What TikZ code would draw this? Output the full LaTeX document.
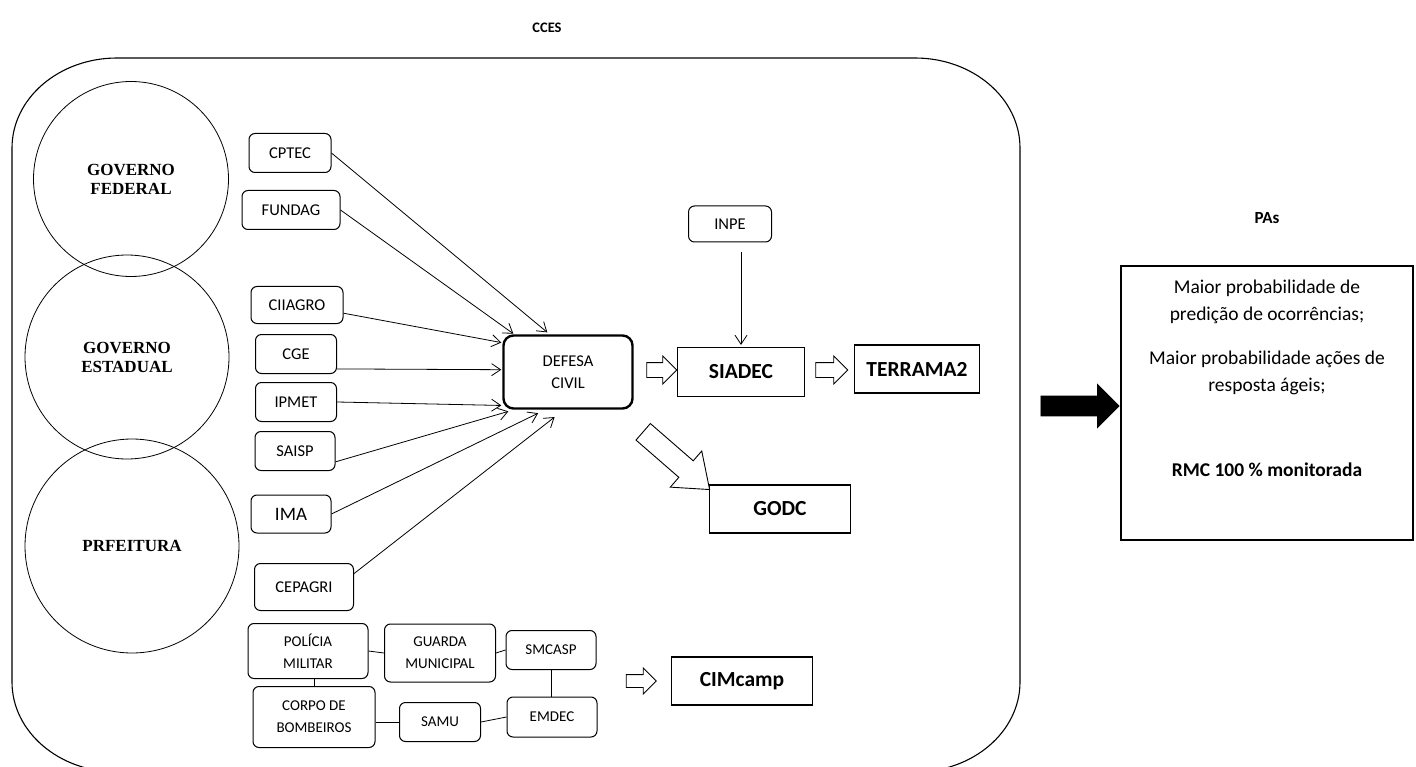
\documentclass[tikz,border=0pt]{standalone}
\usepackage{fontspec}
\setmainfont{Carlito}
\newfontfamily\govfont{Liberation Serif}
\usepackage{tikz}
\usetikzlibrary{positioning, shapes, shapes.arrows, arrows.meta, calc}

\newcommand{\orgsize}{\fontsize{16.5}{22}\selectfont}
\newcommand{\crewsize}{\fontsize{15}{22}\selectfont}
\newcommand{\syssize}{\fontsize{21.5}{24}\selectfont}
\newcommand{\govsize}{\fontsize{17}{19}\selectfont}
\newcommand{\pasize}{\fontsize{19.5}{27}\selectfont}

\begin{document}
\begin{tikzpicture}[x=1pt, y=-1pt]

	\tikzstyle{govc}=[circle, draw=black, line width=0.8pt, inner sep=0pt, align=center, font=\govfont\govsize\bfseries]
	\tikzstyle{orgr}=[rectangle, rounded corners=6pt, draw=black, line width=1pt, inner sep=0pt, align=center, font=\orgsize]
	\tikzstyle{sysr}=[rectangle, draw=black, line width=1.1pt, inner sep=0pt, font=\syssize\bfseries]
	\tikzstyle{feed}=[-{Straight Barb[length=9pt, width=12pt]}, line width=0.8pt]
	\tikzstyle{hollow}=[single arrow, draw=black, line width=0.9pt, fill=white, inner xsep=0pt, text height=0pt, text depth=0pt]

	\useasboundingbox (0,0) rectangle (1416,767);
	\clip (0,0) rectangle (1416,767);

	% outer frame
	\draw [line width=1.1pt] (12,148) -- (12,682)
		arc [start angle=180, end angle=90, x radius=105, y radius=90] -- (915,772)
		arc [start angle=90, end angle=0, x radius=105, y radius=90] -- (1020,148)
		arc [start angle=0, end angle=-90, x radius=105, y radius=90] -- (117,58)
		arc [start angle=270, end angle=180, x radius=105, y radius=90] -- cycle;
	\node (ccesnode) at (547,28) [font=\fontsize{14.5}{16}\selectfont\bfseries] {CCES};

	\node (fednode) at (131,179) [govc, minimum size=195pt] {GOVERNO\\FEDERAL};
	\node (estnode) at (127,357) [govc, minimum size=204pt] {GOVERNO\\ESTADUAL};
	\node (prefnode) at (132,546) [govc, minimum size=214pt] {PRFEITURA};

	\node (cptecnode) at (290,153) [orgr, minimum width=82pt, minimum height=39pt] {CPTEC};
	\node (fundagnode) at (291,210) [orgr, minimum width=98pt, minimum height=39pt] {FUNDAG};
	\node (ciiagronode) at (297,305) [orgr, minimum width=92pt, minimum height=37pt] {CIIAGRO};
	\node (cgenode) at (296,354) [orgr, minimum width=81pt, minimum height=39pt] {CGE};
	\node (ipmetnode) at (296,402) [orgr, minimum width=81pt, minimum height=39pt] {IPMET};
	\node (saispnode) at (295,451) [orgr, minimum width=80pt, minimum height=39pt] {SAISP};
	\node (imanode) at (291,514) [orgr, minimum width=80pt, minimum height=38pt, font=\fontsize{19}{22}\selectfont] {IMA};
	\node (cepagrinode) at (304,587) [orgr, minimum width=99pt, minimum height=47pt] {CEPAGRI};

	\node (defesanode) at (568,372) [orgr, rounded corners=10pt, line width=2.4pt, minimum width=129pt, minimum height=73pt] {DEFESA\\CIVIL};

	\draw [feed, shorten >=3pt] (cptecnode.east) -- (defesanode.116);
	\draw [feed, shorten >=1pt] (fundagnode.east) -- (defesanode.145);
	\draw [feed, shorten >=1pt] (ciiagronode.-10) -- (defesanode.156);
	\draw [feed, shorten >=1pt] (cgenode.-20) -- (defesanode.178);
	\draw [feed, shorten >=1pt] (ipmetnode.east) -- (defesanode.207);
	\draw [feed, shorten >=6pt] (saispnode.-15) -- (defesanode.215);
	\draw [feed, shorten >=8pt] (imanode.east) -- (defesanode.239);
	\draw [feed, shorten >=12pt] (cepagrinode.15) -- (defesanode.264);

	\node (inpenode) at (730,224) [orgr, minimum width=83pt, minimum height=36pt] {INPE};
	\node (siadecnode) at (741,372) [sysr, minimum width=127pt, minimum height=49pt] {SIADEC};
	\node (terramanode) at (917,369) [sysr, minimum width=125pt, minimum height=48pt] {TERRAMA2};
	\node (godcnode) at (780,509) [sysr, minimum width=141pt, minimum height=48pt] {GODC};
	\node (cimcampnode) at (742,681) [sysr, minimum width=141pt, minimum height=48pt] {CIMcamp};

	\draw [feed, shorten <=10pt, shorten >=2pt] (inpenode.south -| siadecnode.north) -- (siadecnode.north);

	\node (arrsiadec) at (658,370) [hollow, minimum height=30pt, minimum width=27pt, inner ysep=7pt, single arrow head extend=6.5pt] {};
	\node (arrterrama) at (828,370) [hollow, minimum height=32pt, minimum width=27pt, inner ysep=7pt, single arrow head extend=6.5pt] {};
	\node (arrgodc) at (671,456) [hollow, minimum height=88pt, minimum width=47pt, inner ysep=10.5pt, single arrow head extend=13pt, single arrow tip angle=75, rotate=-41] {};
	\node (arrcim) at (638,681) [hollow, minimum height=30pt, minimum width=25pt, inner ysep=6pt, single arrow head extend=6.5pt] {};

	% response teams
	\node (policianode) at (308,651) [orgr, font=\crewsize, minimum width=120pt, minimum height=55pt] {POLÍCIA\\MILITAR};
	\node (guardanode) at (440,653) [orgr, font=\crewsize, minimum width=111pt, minimum height=58pt] {GUARDA\\MUNICIPAL};
	\node (smcaspnode) at (551,650) [orgr, font=\crewsize, minimum width=90pt, minimum height=39pt] {SMCASP};
	\node (corponode) at (314,717) [orgr, font=\crewsize, minimum width=122pt, minimum height=61pt] {CORPO DE\\BOMBEIROS};
	\node (samunode) at (440,722) [orgr, font=\crewsize, minimum width=81pt, minimum height=39pt] {SAMU};
	\node (emdecnode) at (552,717) [orgr, font=\crewsize, minimum width=90pt, minimum height=40pt] {EMDEC};

	\draw [line width=0.8pt] (policianode.east) -- (guardanode.west);
	\draw [line width=0.8pt] (guardanode.east) -- (smcaspnode.west);
	\draw [line width=0.8pt] (smcaspnode.south) -- (emdecnode.north -| smcaspnode.south);
	\draw [line width=0.8pt] (corponode.north) -- (corponode.north |- policianode.south);
	\draw [line width=0.8pt] (samunode.west) -- (samunode.west -| corponode.east);
	\draw [line width=0.8pt] (samunode.east) -- (emdecnode.west);

	% results
	\node (arrpas) at (1075,406) [hollow, fill=black, minimum height=78pt, minimum width=42pt, inner ysep=9.5pt, single arrow head extend=11.5pt] {};
	\node (paslabel) at (1267,218) [font=\fontsize{17}{18}\selectfont\bfseries] {PAs};
	\node (pasnode) at (1267,403) [rectangle, draw=black, line width=2pt, minimum width=292pt, minimum height=274pt] {};
	\node (pastext) at (1267,280) [anchor=north, align=center, inner sep=0pt, font=\pasize] {Maior probabilidade de\\predição de ocorrências;\\[17pt]Maior probabilidade ações de\\resposta ágeis;\\[58pt]\textbf{RMC 100 \% monitorada}};
\end{tikzpicture}
\end{document}
